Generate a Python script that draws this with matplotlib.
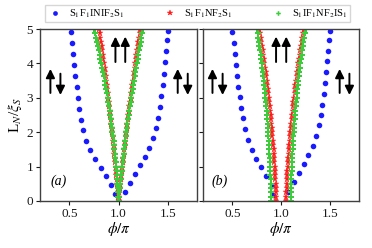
import numpy as np
import matplotlib
matplotlib.use('Agg')
from matplotlib import pyplot as plt

plt.rcParams['font.family'] = ['Liberation Serif', 'DejaVu Serif']
plt.rcParams['mathtext.fontset'] = 'stix'

labels = [r'S$_1$F$_1$INIF$_2$S$_1$', r'S$_1$F$_1$NF$_2$S$_1$', r'S$_1$IF$_1$NF$_2$IS$_1$']

# L grid for the dense (red / green) series
L_dense = np.linspace(0, 5, 41)

# ---- panel (a) ----
a_blue_left_phi = [0.96, 0.92, 0.87, 0.82, 0.76, 0.71, 0.67, 0.64, 0.615, 0.60, 0.584, 0.574, 0.56, 0.55, 0.537, 0.527, 0.513]
a_blue_left_L = [0.19, 0.47, 0.72, 0.95, 1.21, 1.48, 1.75, 2.05, 2.36, 2.68, 3.00, 3.31, 3.63, 3.94, 4.28, 4.59, 4.91]
a_blue_right_phi = [1.07, 1.12, 1.17, 1.22, 1.27, 1.31, 1.35, 1.38, 1.40, 1.42, 1.43, 1.45, 1.46, 1.47, 1.48, 1.49, 1.50]
a_blue_right_L = [0.25, 0.52, 0.78, 1.03, 1.28, 1.53, 1.82, 2.12, 2.42, 2.73, 3.05, 3.37, 3.70, 4.03, 4.36, 4.67, 4.94]

a_red_left = [1.000, 0.997, 0.993, 0.990, 0.986, 0.982, 0.978, 0.975, 0.971, 0.967, 0.962, 0.958, 0.954, 0.950,
              0.945, 0.941, 0.936, 0.931, 0.927, 0.922, 0.917, 0.912, 0.907, 0.902, 0.896, 0.891, 0.886, 0.880,
              0.875, 0.869, 0.863, 0.858, 0.852, 0.846, 0.840, 0.834, 0.828, 0.821, 0.815, 0.809, 0.802]
a_red_right = [1.000, 1.005, 1.009, 1.014, 1.018, 1.023, 1.028, 1.033, 1.038, 1.043, 1.048, 1.053, 1.058, 1.063,
               1.068, 1.073, 1.078, 1.084, 1.089, 1.095, 1.100, 1.106, 1.111, 1.117, 1.122, 1.128, 1.134, 1.140,
               1.146, 1.152, 1.158, 1.164, 1.170, 1.176, 1.182, 1.188, 1.194, 1.201, 1.207, 1.214, 1.220]
a_green_left = [1.000, 0.998, 0.995, 0.992, 0.989, 0.986, 0.983, 0.979, 0.976, 0.972, 0.967, 0.963, 0.958, 0.954,
                0.949, 0.943, 0.938, 0.932, 0.927, 0.921, 0.914, 0.908, 0.901, 0.895, 0.888, 0.880, 0.873, 0.865,
                0.857, 0.849, 0.841, 0.833, 0.824, 0.815, 0.806, 0.797, 0.787, 0.778, 0.768, 0.758, 0.748]
a_green_right = [1.000, 1.004, 1.008, 1.013, 1.017, 1.021, 1.026, 1.031, 1.036, 1.041, 1.046, 1.051, 1.056, 1.062,
                 1.067, 1.073, 1.078, 1.084, 1.090, 1.096, 1.103, 1.109, 1.115, 1.122, 1.128, 1.135, 1.142, 1.149,
                 1.156, 1.163, 1.171, 1.178, 1.186, 1.193, 1.201, 1.209, 1.217, 1.225, 1.233, 1.242, 1.250]

# ---- panel (b) ----
b_blue_left_phi = [0.914, 0.904, 0.845, 0.79, 0.74, 0.698, 0.657, 0.63, 0.605, 0.588, 0.574, 0.56, 0.55, 0.536, 0.527, 0.52, 0.497]
b_blue_left_L = [0.17, 0.44, 0.73, 0.98, 1.23, 1.49, 1.78, 2.09, 2.40, 2.69, 3.01, 3.31, 3.64, 3.96, 4.28, 4.59, 4.91]
b_blue_right_phi = [1.07, 1.13, 1.18, 1.23, 1.28, 1.325, 1.36, 1.385, 1.405, 1.42, 1.44, 1.45, 1.46, 1.47, 1.48, 1.49, 1.505]
b_blue_right_L = [0.25, 0.56, 0.81, 1.07, 1.33, 1.61, 1.90, 2.20, 2.50, 2.80, 3.12, 3.43, 3.74, 4.06, 4.37, 4.68, 4.95]

b_red_left = [0.950, 0.948, 0.947, 0.945, 0.943, 0.941, 0.938, 0.936, 0.933, 0.931, 0.928, 0.925, 0.922, 0.918,
              0.915, 0.911, 0.908, 0.904, 0.900, 0.896, 0.891, 0.887, 0.882, 0.877, 0.873, 0.868, 0.862, 0.857,
              0.852, 0.846, 0.841, 0.835, 0.829, 0.822, 0.816, 0.809, 0.803, 0.796, 0.789, 0.782, 0.775]
b_red_right = [1.050, 1.052, 1.054, 1.056, 1.058, 1.060, 1.062, 1.065, 1.068, 1.071, 1.074, 1.077, 1.080, 1.084,
               1.087, 1.091, 1.095, 1.099, 1.103, 1.107, 1.112, 1.117, 1.121, 1.126, 1.131, 1.137, 1.142, 1.147,
               1.153, 1.159, 1.165, 1.171, 1.177, 1.184, 1.190, 1.197, 1.204, 1.211, 1.218, 1.225, 1.233]
b_green_left = [0.895, 0.894, 0.894, 0.893, 0.892, 0.891, 0.889, 0.888, 0.886, 0.884, 0.882, 0.880, 0.878, 0.876,
                0.873, 0.870, 0.867, 0.864, 0.861, 0.858, 0.854, 0.851, 0.847, 0.843, 0.839, 0.835, 0.830, 0.826,
                0.821, 0.816, 0.811, 0.806, 0.801, 0.795, 0.789, 0.784, 0.778, 0.772, 0.765, 0.759, 0.753]
b_green_right = [1.100, 1.100, 1.101, 1.102, 1.103, 1.104, 1.105, 1.107, 1.108, 1.110, 1.112, 1.114, 1.117, 1.119,
                 1.122, 1.125, 1.128, 1.131, 1.134, 1.138, 1.141, 1.145, 1.149, 1.153, 1.158, 1.162, 1.167, 1.172,
                 1.177, 1.182, 1.187, 1.193, 1.198, 1.204, 1.210, 1.216, 1.223, 1.229, 1.236, 1.243, 1.250]

panels = [
    dict(tag='(a)', tag_x=0.385,
         blue=[(a_blue_left_phi, a_blue_left_L), (a_blue_right_phi, a_blue_right_L)],
         red=[a_red_left, a_red_right], green=[a_green_left, a_green_right],
         mid=(0.968, 1.068), side=((0.306, 0.408), (1.602, 1.704))),
    dict(tag='(b)', tag_x=0.37,
         blue=[(b_blue_left_phi, b_blue_left_L), (b_blue_right_phi, b_blue_right_L)],
         red=[b_red_left, b_red_right], green=[b_green_left, b_green_right],
         mid=(0.948, 1.052), side=((0.296, 0.400), (1.600, 1.700))),
]

c_blue = '#1a1aff'
c_red = '#ff1a1a'
c_green = '#3ccc3c'


def arrow(ax, x, y0, y1):
    ax.annotate('', xy=(x, y1), xytext=(x, y0),
                arrowprops=dict(arrowstyle='-|>', color='k', lw=1.4, mutation_scale=13,
                                shrinkA=0, shrinkB=0))


fig = plt.figure(figsize=(3.72, 2.48), dpi=100)
ax_a = fig.add_axes([0.1075, 0.19, 0.4225, 0.693])
ax_b = fig.add_axes([0.546, 0.19, 0.4195, 0.693], sharey=ax_a)

for ax, p in zip([ax_a, ax_b], panels):
    for k, (phi, L) in enumerate(p['blue']):
        ax.plot(phi, L, 'o', color=c_blue, ms=4.0, mew=0, label=labels[0] if k == 0 else None)
    for k, phi in enumerate(p['red']):
        ax.plot(phi, L_dense, '*', color=c_red, ms=4.8, mew=0.3, label=labels[1] if k == 0 else None)
    for k, phi in enumerate(p['green']):
        ax.plot(phi, L_dense, 'P', color=c_green, ms=3.9, mew=0, label=labels[2] if k == 0 else None)

    ax.set_xlim(0.2, 1.8)
    ax.set_ylim(0, 5)
    ax.set_xticks([0.5, 1.0, 1.5])
    ax.set_xticklabels(['0.5', '1.0', '1.5'])
    ax.set_yticks([0, 1, 2, 3, 4, 5])
    ax.tick_params(direction='out', length=3, width=0.8, labelsize=9.5, colors='0.1', pad=2)
    for s in ax.spines.values():
        s.set_color('0.25')
        s.set_linewidth(1.0)
    ax.set_xlabel(r'$\phi/\pi$', fontsize=11, labelpad=0)

    # spin configuration arrows
    (l_up, l_dn), (r_up, r_dn) = p['side']
    arrow(ax, l_up, 3.14, 3.84)
    arrow(ax, l_dn, 3.70, 3.08)
    arrow(ax, r_up, 3.14, 3.84)
    arrow(ax, r_dn, 3.70, 3.08)
    arrow(ax, p['mid'][0], 4.04, 4.78)
    arrow(ax, p['mid'][1], 4.04, 4.78)

    ax.text(p['tag_x'], 0.56, p['tag'], style='italic', fontsize=10, ha='center', va='center')

ax_a.set_ylabel(r'L$_N$/$\xi_S$', fontsize=11, labelpad=2)
plt.setp(ax_b.get_yticklabels(), visible=False)

handles, labs = ax_a.get_legend_handles_labels()
fig.legend(handles, labs, loc='lower left', bbox_to_anchor=(0.1075, 0.889, 0.847, 0.06),
           mode='expand', ncol=3, fontsize=7.5, frameon=True, fancybox=False, edgecolor='0.8',
           borderpad=0.25, handletextpad=0.7, handlelength=1.3, markerscale=0.85)

fig.savefig('out.png', dpi=100)
